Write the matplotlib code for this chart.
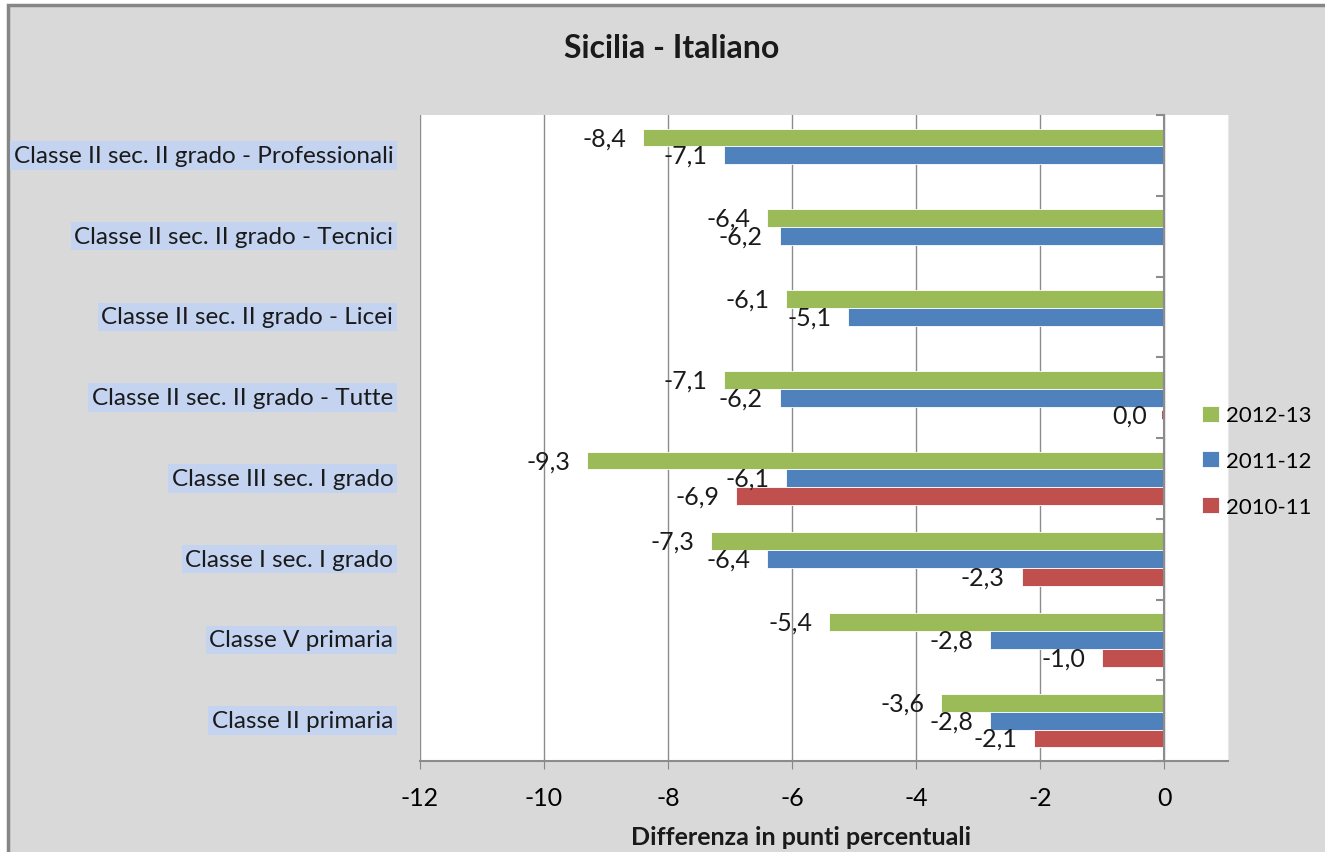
import numpy as np
import matplotlib.pyplot as plt
from matplotlib.patches import Rectangle
from matplotlib.transforms import blended_transform_factory

# categories listed bottom -> top
categories = [
    "Classe II primaria",
    "Classe V primaria",
    "Classe I sec. I grado",
    "Classe III sec. I grado",
    "Classe II sec. II grado - Tutte",
    "Classe II sec. II grado - Licei",
    "Classe II sec. II grado - Tecnici",
    "Classe II sec. II grado - Professionali",
]
vals_2012_13 = [-3.6, -5.4, -7.3, -9.3, -7.1, -6.1, -6.4, -8.4]
vals_2011_12 = [-2.8, -2.8, -6.4, -6.1, -6.2, -5.1, -6.2, -7.1]
vals_2010_11 = [-2.1, -1.0, -2.3, -6.9, 0.0, None, None, None]

series = [
    ("2012-13", vals_2012_13, "#9bbb59"),
    ("2011-12", vals_2011_12, "#4f81bd"),
    ("2010-11", vals_2010_11, "#c0504d"),
]
xticks = [-12, -10, -8, -6, -4, -2, 0]

plt.rcParams['font.family'] = ['Lato', 'DejaVu Sans']

fig = plt.figure(figsize=(13.25, 8.53), dpi=100)
fig.patch.set_facecolor("white")
fig.add_artist(Rectangle((8 / 1325, -0.01), 1.0, 1 - 6 / 853 + 0.01,
                         transform=fig.transFigure, facecolor="#d9d9d9",
                         edgecolor="#868686", linewidth=2.5, zorder=-10))

ax = fig.add_axes([420 / 1325, 1 - 762 / 853, 808 / 1325, 646 / 853])
ax.set_facecolor("white")

y = np.arange(len(categories))
h = 0.22
offsets = [h, 0, -h]

for (name, vals, color), off in zip(series, offsets):
    v = np.array([np.nan if a is None else a for a in vals], dtype=float)
    ax.barh(y + off, v, height=h, color=color, edgecolor="white",
            linewidth=0.6, label=name, zorder=3)
    for yi, val in zip(y + off, vals):
        if val is None:
            continue
        if val == 0:
            # zero-length bar still shows a thin sliver
            ax.plot([-0.03, 0], [yi, yi], color=color, lw=6,
                    solid_capstyle="butt", zorder=3)
        ax.annotate(f"{val:.1f}".replace(".", ","), (val, yi),
                    xytext=(-12, 0), textcoords="offset points",
                    ha="right", va="center", fontsize=18, color="#1a1a1a",
                    zorder=4)

ax.set_xlim(-12, 1.03)
ax.set_ylim(-0.5, len(categories) - 0.5)
ax.set_xticks(xticks)
ax.set_xticklabels([str(t) for t in xticks], fontsize=18)
ax.tick_params(axis="x", length=6, color="#868686", pad=12)
ax.grid(axis="x", color="#8c8c8c", linewidth=1, zorder=0)

# y axis at zero with ticks at category boundaries
ax.spines["left"].set_position(("data", 0))
ax.spines["left"].set_color("#8c8c8c")
ax.spines["left"].set_linewidth(1.5)
ax.spines["left"].set_zorder(5)
ax.set_yticks(np.arange(-0.5, len(categories), 1.0))
ax.set_yticklabels([])
ax.tick_params(axis="y", length=6, width=1.5, color="#8c8c8c", direction="out")
ax.spines["bottom"].set_color("#8c8c8c")
ax.spines["bottom"].set_linewidth(1.5)
ax.spines["top"].set_visible(False)
ax.spines["right"].set_color("#e8e8e8")

trans = blended_transform_factory(ax.transAxes, ax.transData)
for yi, cat in zip(y, categories):
    ax.text(-0.033, yi, cat, transform=trans, ha="right", va="center",
            fontsize=17.5, color="#1a1a1a",
            bbox=dict(boxstyle="square,pad=0.15", facecolor="#c3d3f0",
                      edgecolor="none"))

fig.text(672 / 1325, 1 - 48 / 853, "Sicilia - Italiano", ha="center",
         va="center", fontsize=23, fontweight="bold", color="#1a1a1a")
fig.text(801 / 1325, 1 - 838 / 853, "Differenza in punti percentuali",
         ha="center", va="center", fontsize=18, fontweight="bold",
         color="#1a1a1a")

fig.legend(loc="center left", bbox_to_anchor=(1202 / 1325, 1 - 462 / 853),
           frameon=False, fontsize=16, handlelength=0.75, handleheight=0.75,
           handletextpad=0.35, labelspacing=1.15, borderpad=0,
           borderaxespad=0)

fig.savefig("out.png", dpi=100)
